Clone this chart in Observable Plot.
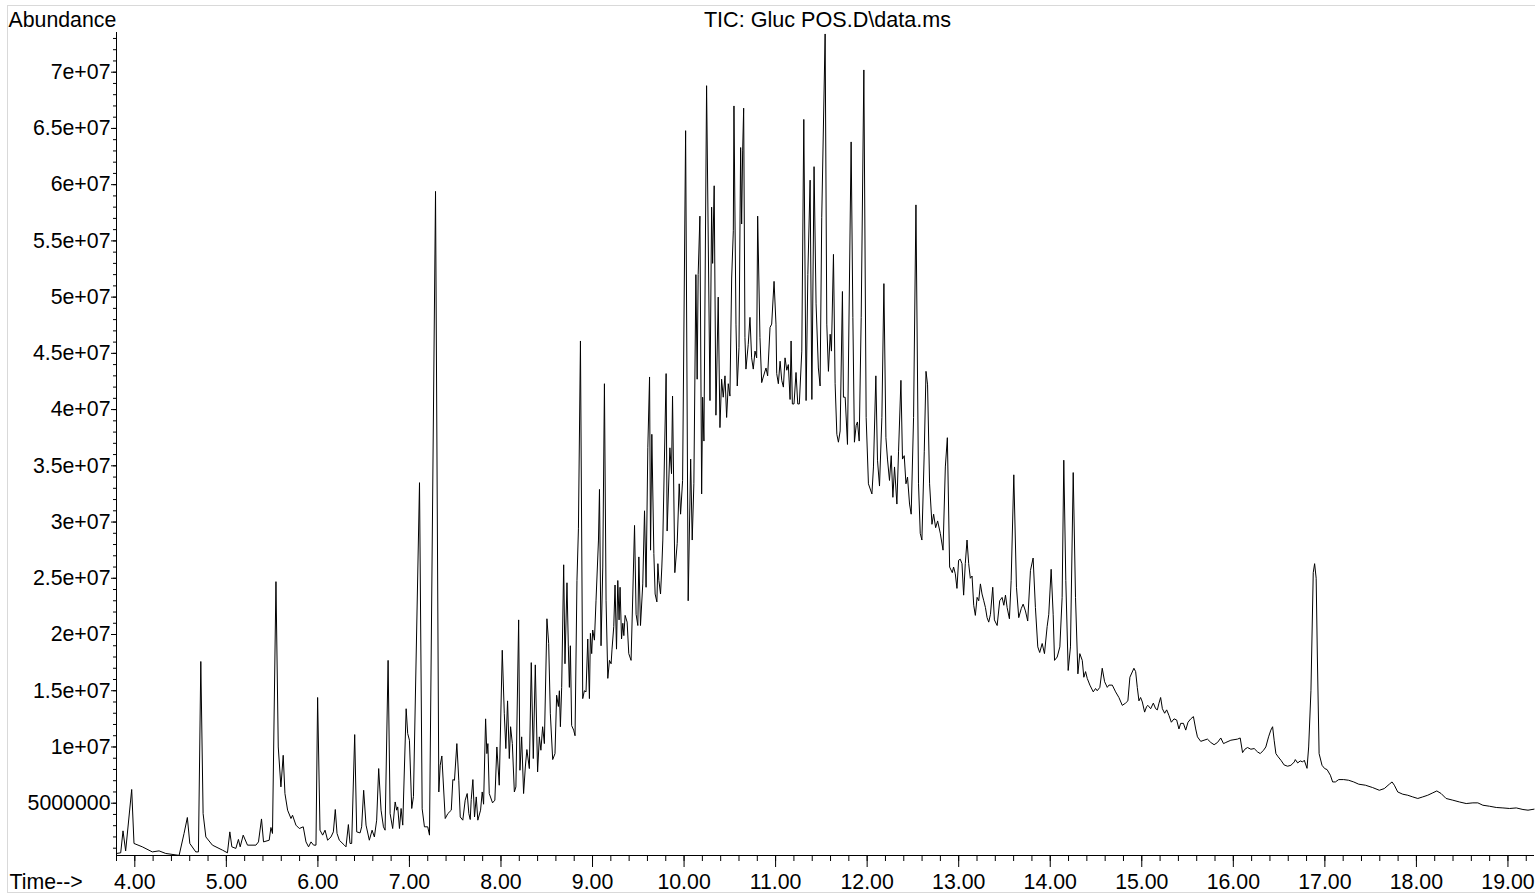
<!DOCTYPE html>
<html>
<head>
<meta charset="utf-8">
<script src="https://cdn.jsdelivr.net/npm/d3@7"></script>
<script src="https://cdn.jsdelivr.net/npm/@observablehq/plot@0.6"></script>
<style>
html, body { margin: 0; padding: 0; background: #fff; }
#wrap { position: relative; width: 1535px; height: 894px; overflow: hidden; }
#border { position: absolute; left: 7px; top: 5px; width: 1540px; height: 888px; border: 1px solid #d9d9d9; box-sizing: border-box; pointer-events: none; }
</style>
</head>
<body>
<div id="wrap"><div id="chart"></div><div id="border"></div></div>
<script>
// Retention time (min)
const times = [
3.800,3.846,3.871,3.900,3.966,3.991,4.082,4.191,4.265,4.338,4.484,4.538,4.574,4.601,4.666,4.695,4.721,4.746,4.776,4.848,
4.957,5.012,5.038,5.060,5.104,5.132,5.151,5.184,5.231,5.323,5.351,5.384,5.406,5.468,5.487,5.504,5.542,5.567,5.596,5.621,
5.640,5.669,5.706,5.723,5.760,5.797,5.840,5.870,5.898,5.925,5.953,5.979,5.997,6.023,6.052,6.078,6.106,6.143,6.169,6.190,
6.209,6.234,6.289,6.307,6.333,6.351,6.369,6.402,6.424,6.461,6.478,6.500,6.526,6.562,6.592,6.617,6.642,6.664,6.690,6.716,
6.734,6.767,6.789,6.817,6.844,6.861,6.872,6.891,6.909,6.927,6.964,6.981,7.000,7.025,7.044,7.110,7.139,7.164,7.200,7.219,
7.285,7.321,7.336,7.354,7.391,7.420,7.457,7.474,7.492,7.518,7.539,7.555,7.583,7.609,7.631,7.649,7.664,7.675,7.693,7.711,
7.730,7.747,7.777,7.795,7.810,7.832,7.846,7.857,7.872,7.908,7.933,7.955,7.981,8.014,8.036,8.053,8.072,8.091,8.105,8.124,
8.146,8.163,8.193,8.207,8.226,8.247,8.266,8.283,8.310,8.331,8.353,8.375,8.400,8.419,8.436,8.455,8.474,8.502,8.521,8.539,
8.565,8.590,8.608,8.627,8.638,8.649,8.663,8.685,8.699,8.721,8.736,8.747,8.758,8.772,8.794,8.809,8.830,8.846,8.868,8.893,
8.911,8.929,8.948,8.966,8.977,8.991,9.002,9.021,9.038,9.065,9.076,9.093,9.112,9.130,9.148,9.167,9.185,9.203,9.213,9.232,
9.246,9.262,9.276,9.290,9.301,9.317,9.331,9.342,9.356,9.378,9.396,9.421,9.440,9.459,9.476,9.495,9.506,9.524,9.549,9.568,
9.585,9.604,9.623,9.634,9.648,9.670,9.684,9.703,9.714,9.725,9.743,9.757,9.768,9.804,9.815,9.845,9.863,9.874,9.899,9.925,
9.947,9.962,9.984,10.017,10.045,10.072,10.089,10.107,10.129,10.143,10.154,10.173,10.192,10.203,10.217,10.246,10.283,10.301,10.312,10.329,
10.348,10.373,10.392,10.410,10.428,10.447,10.465,10.483,10.501,10.520,10.538,10.545,10.567,10.581,10.600,10.618,10.629,10.640,10.651,10.665,
10.676,10.701,10.720,10.738,10.756,10.775,10.793,10.804,10.829,10.848,10.865,10.895,10.913,10.939,10.957,10.983,11.004,11.012,11.030,11.049,
11.067,11.085,11.103,11.122,11.139,11.158,11.169,11.183,11.201,11.223,11.242,11.259,11.286,11.308,11.333,11.352,11.377,11.396,11.420,11.442,
11.467,11.486,11.504,11.541,11.559,11.577,11.596,11.610,11.632,11.650,11.669,11.686,11.705,11.730,11.741,11.760,11.785,11.825,11.844,11.861,
11.880,11.894,11.913,11.935,11.964,11.989,12.014,12.052,12.069,12.095,12.113,12.135,12.161,12.183,12.205,12.222,12.244,12.263,12.281,12.299,
12.325,12.343,12.369,12.386,12.405,12.424,12.441,12.463,12.481,12.507,12.533,12.561,12.580,12.598,12.624,12.643,12.660,12.682,12.708,12.726,
12.748,12.770,12.799,12.829,12.854,12.876,12.901,12.930,12.944,12.963,12.981,12.999,13.017,13.036,13.054,13.072,13.091,13.109,13.127,13.146,
13.164,13.182,13.201,13.219,13.237,13.255,13.274,13.292,13.310,13.328,13.347,13.372,13.390,13.420,13.448,13.474,13.493,13.511,13.529,13.554,
13.573,13.602,13.631,13.656,13.683,13.704,13.729,13.754,13.784,13.813,13.838,13.864,13.885,13.912,13.937,13.966,13.984,14.010,14.032,14.047,
14.076,14.105,14.130,14.148,14.170,14.196,14.221,14.251,14.276,14.302,14.323,14.350,14.367,14.386,14.404,14.433,14.470,14.495,14.513,14.542,
14.568,14.594,14.623,14.641,14.678,14.714,14.750,14.787,14.823,14.848,14.870,14.914,14.933,14.951,14.969,14.987,15.006,15.031,15.053,15.067,
15.097,15.126,15.152,15.170,15.188,15.206,15.225,15.250,15.272,15.297,15.323,15.352,15.381,15.406,15.425,15.455,15.480,15.505,15.535,15.564,
15.589,15.608,15.644,15.680,15.717,15.754,15.790,15.827,15.863,15.893,15.918,15.973,16.046,16.075,16.101,16.126,16.155,16.192,16.228,16.265,
16.294,16.330,16.355,16.385,16.410,16.429,16.446,16.465,16.490,16.520,16.555,16.593,16.629,16.666,16.677,16.703,16.731,16.758,16.775,16.805,
16.823,16.848,16.873,16.888,16.905,16.918,16.937,16.969,16.998,17.024,17.060,17.085,17.115,17.151,17.206,17.260,17.315,17.370,17.443,17.522,
17.595,17.649,17.704,17.734,17.759,17.796,17.851,17.905,17.960,18.015,18.069,18.124,18.179,18.223,18.270,18.324,18.397,18.470,18.544,18.617,
18.671,18.726,18.799,18.872,18.945,19.018,19.091,19.164,19.219,19.285
];

// Total ion current abundance, in millions of counts
const abundanceMillions = [
0.53,0.59,2.54,0.76,6.22,1.42,1.12,0.67,0.76,0.53,0.36,2.31,3.73,1.42,0.67,0.67,17.6,4.08,2.0,1.27,
0.83,0.59,2.45,1.12,0.98,1.78,1.12,2.16,1.27,1.27,1.56,3.6,1.56,1.71,2.84,2.31,24.7,10.0,6.45,9.26,
5.86,4.38,3.64,3.93,3.05,2.75,2.9,1.56,1.12,1.56,1.27,1.27,14.4,2.6,2.16,2.6,1.71,2.0,2.45,4.44,
2.31,1.71,1.27,1.12,3.1,1.42,1.42,11.1,2.45,2.36,2.9,6.15,3.05,1.71,2.6,2.0,3.49,8.08,4.38,2.9,
2.6,17.7,4.08,2.75,5.11,4.38,4.67,2.75,4.53,3.05,13.4,11.2,10.6,4.53,5.6,33.5,4.5,2.9,2.9,2.16,
59.4,6.0,8.37,9.2,3.64,4.08,4.38,7.1,7.04,10.3,7.04,3.78,3.49,5.27,5.86,4.08,3.55,5.33,7.1,3.78,
5.56,3.49,4.38,6.0,4.91,12.5,9.41,10.3,5.86,5.03,5.27,10.0,6.6,18.6,13.0,9.86,14.1,8.97,11.8,10.3,
6.0,6.45,21.3,7.93,10.9,5.86,8.22,9.77,8.08,17.5,8.97,17.3,7.78,10.9,9.71,11.8,10.3,21.4,19.2,13.0,
8.88,9.41,14.6,13.6,15.0,11.8,15.3,26.2,17.4,24.6,18.9,15.3,19.0,11.9,11.5,11.0,24.8,29.4,46.1,14.3,
15.0,14.9,19.6,14.3,20.1,18.3,20.4,19.5,23.0,28.4,32.9,19.0,26.0,42.3,23.0,16.1,17.7,17.4,18.7,20.7,
24.4,18.7,24.8,21.3,24.2,19.6,21.0,19.9,21.7,21.1,18.3,17.7,23.6,29.7,21.8,20.8,26.9,20.8,24.5,31.0,
24.2,36.6,42.9,27.5,37.8,27.2,23.6,22.9,26.3,24.8,23.6,26.0,28.4,43.2,29.2,36.6,34.3,41.2,25.5,28.1,
33.4,30.7,33.7,64.8,23.0,35.6,28.4,33.4,52.0,42.7,52.0,57.2,32.5,41.1,37.2,68.8,40.8,58.0,53.0,59.9,
39.5,50.0,38.4,42.7,41.1,43.0,39.3,42.3,41.2,51.7,55.9,67.0,47.6,42.1,45.5,63.3,56.5,63.0,66.8,46.4,
43.6,45.8,48.2,44.6,43.6,45.2,44.6,57.2,46.4,42.4,42.9,43.7,43.0,47.3,47.6,51.4,47.6,43.2,42.3,44.3,
42.6,42.0,44.6,43.5,44.0,40.9,46.1,40.5,40.5,43.3,40.5,40.5,45.2,65.8,40.8,52.0,60.4,40.9,61.6,49.4,
43.7,42.1,57.1,73.4,47.6,43.4,46.7,45.2,53.8,42.3,37.8,37.1,38.1,50.5,41.1,41.1,36.9,63.8,48.2,37.1,
38.6,38.9,37.2,48.2,70.2,39.3,33.4,32.5,34.9,43.0,35.5,33.2,39.3,51.2,37.5,35.6,33.7,35.9,32.2,34.9,
31.6,36.3,42.6,35.6,35.9,33.4,34.0,31.6,30.7,39.3,58.2,33.4,29.0,28.4,36.3,43.4,42.2,33.4,29.8,30.7,
29.5,30.1,29.0,27.5,34.9,37.5,26.0,25.5,26.0,25.4,24.1,26.6,26.7,26.3,23.5,26.3,28.4,26.3,25.0,25.2,
22.6,21.7,23.3,23.0,24.5,23.6,23.0,22.4,21.5,21.1,21.8,24.2,21.3,20.8,23.0,23.3,22.6,23.5,22.4,21.4,
24.8,34.2,24.2,21.5,22.3,22.7,22.1,21.2,25.7,26.8,22.4,18.9,18.4,19.2,18.3,20.7,21.8,25.8,21.8,17.7,
18.0,18.9,23.3,35.5,24.8,16.8,18.9,34.4,23.3,16.5,18.3,17.7,16.2,16.7,16.1,15.5,14.9,15.2,15.0,15.3,
17.0,15.8,15.3,15.5,15.5,14.9,14.4,13.7,13.9,14.1,16.2,17.0,16.7,15.3,14.1,14.4,14.0,13.1,13.6,13.7,
13.4,13.9,13.4,13.3,13.9,14.4,13.4,13.0,13.3,12.8,12.2,12.5,12.4,11.6,12.1,12.1,11.5,12.2,12.5,12.7,
11.6,10.9,10.5,10.6,10.7,10.4,10.2,10.4,10.8,10.3,10.4,10.6,10.7,10.8,9.5,9.8,9.95,9.8,9.86,9.56,
9.41,9.71,10.0,10.9,11.5,11.8,10.6,9.41,9.12,8.82,8.4,8.29,8.37,8.67,8.88,8.58,8.76,8.67,8.82,8.1,
10.0,15.0,25.5,26.3,25.0,18.0,9.41,8.37,8.08,7.99,7.49,6.89,6.89,7.1,7.1,7.04,6.89,6.69,6.6,6.39,
6.15,6.3,6.69,6.89,6.6,6.0,5.8,5.71,5.56,5.42,5.56,5.71,5.92,6.09,5.86,5.42,5.27,5.11,4.97,5.03,
5.03,4.82,4.73,4.62,4.58,4.53,4.58,4.44,4.38,4.47
];

// Axis ticks and labels
const xMajorTicks = [4, 5, 6, 7, 8, 9, 10, 11, 12, 13, 14, 15, 16, 17, 18, 19];
const xMinorTicks = d3.range(3.8, 19.3, 0.2);
const yMajorTicks = [5e6, 10e6, 15e6, 20e6, 25e6, 30e6, 35e6, 40e6, 45e6, 50e6, 55e6, 60e6, 65e6, 70e6];
const yTickLabels = ["5000000", "1e+07", "1.5e+07", "2e+07", "2.5e+07", "3e+07", "3.5e+07", "4e+07", "4.5e+07", "5e+07", "5.5e+07", "6e+07", "6.5e+07", "7e+07"];
const yMinorTicks = d3.range(1e6, 74e6, 1e6);

const titleText = "TIC: Gluc POS.D\\data.ms";
const yLabelText = "Abundance";
const xLabelText = "Time-->";

const data = times.map((t, i) => ({time: t, abundance: abundanceMillions[i] * 1e6}));

const xDomain = [3.8, 19.29];
const yDomain = [0.35e6, 73.53e6];
const FS = 21.3;

const chart = Plot.plot({
  width: 1535,
  height: 894,
  marginTop: 32,
  marginBottom: 39,
  marginLeft: 116,
  marginRight: 1,
  style: {fontFamily: "'Liberation Sans', Arial, sans-serif", fontSize: FS + "px", color: "black", background: "white", overflow: "visible"},
  x: {domain: xDomain},
  y: {domain: yDomain},
  marks: [
    Plot.axisY(yMinorTicks, {tickSize: 3, tickFormat: () => "", label: null, stroke: "black"}),
    Plot.axisY(yMajorTicks, {tickSize: 5, tickPadding: 1, label: null, fontSize: FS, stroke: "black",
      tickFormat: (d) => yTickLabels[yMajorTicks.indexOf(d)]}),
    Plot.axisX(xMinorTicks, {tickSize: 6, tickFormat: () => "", label: null, stroke: "black"}),
    Plot.axisX(xMajorTicks, {tickSize: 12, tickPadding: 5.9, label: null, fontSize: FS, stroke: "black",
      tickFormat: d3.format(".2f")}),
    Plot.ruleX([xDomain[0]], {stroke: "black", strokeWidth: 1}),
    Plot.ruleY([yDomain[0]], {stroke: "black", strokeWidth: 1}),
    Plot.line(data, {x: "time", y: "abundance", stroke: "black", strokeWidth: 1}),
    Plot.text([titleText], {frameAnchor: "top", text: (d) => d, lineAnchor: "bottom", dx: 2, dy: -6, fontSize: 21.6, fill: "black"}),
    Plot.text([yLabelText], {frameAnchor: "top-left", text: (d) => d, textAnchor: "start", lineAnchor: "bottom", dx: -108, dy: -6, fontSize: FS, fill: "black"}),
    Plot.text([xLabelText], {frameAnchor: "bottom-left", text: (d) => d, textAnchor: "start", lineAnchor: "bottom", dx: -107, dy: 33, fontSize: FS, fill: "black"})
  ]
});
document.getElementById("chart").appendChild(chart);
</script>
</body>
</html>
